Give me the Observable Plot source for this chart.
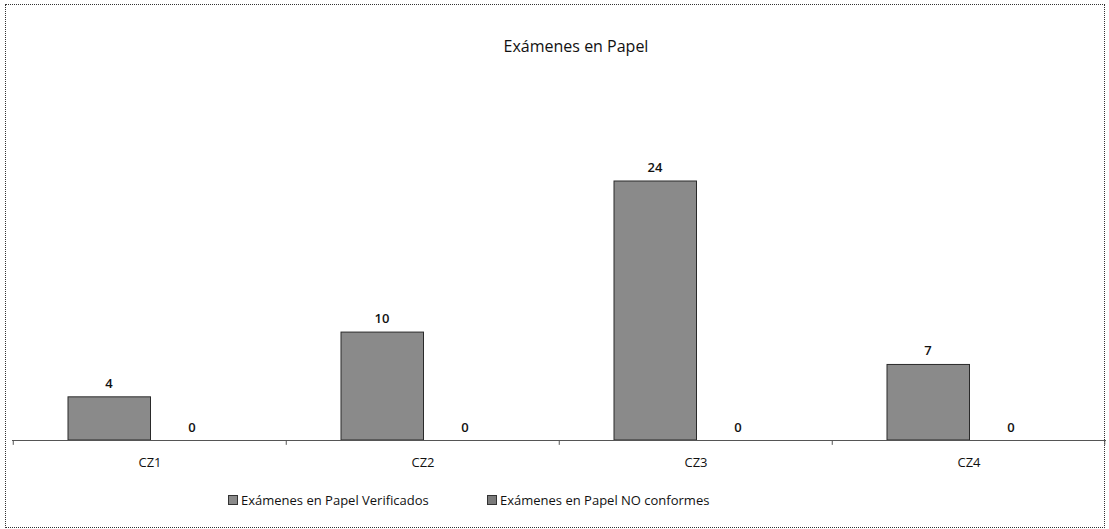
<!DOCTYPE html>
<html>
<head>
<meta charset="utf-8">
<script src="https://cdn.jsdelivr.net/npm/d3@7"></script>
<script src="https://cdn.jsdelivr.net/npm/@observablehq/plot@0.6"></script>
<style>
  html, body { margin: 0; padding: 0; background: #fff; }
  body { width: 1109px; height: 529px; position: relative; overflow: hidden; font-family: "Open Sans", sans-serif; color: #111; }
  #frame { position: absolute; left: 5px; top: 4px; width: 1100px; height: 524px; border: 1px dotted #333; box-sizing: border-box; }
  #title { position: absolute; left: 0; top: 35px; width: 1152px; text-align: center; font-size: 16px; }
  #chart { position: absolute; left: 0; top: 0; }
  .leg { position: absolute; top: 491px; font-size: 13px; white-space: nowrap; display: flex; align-items: center; }
  .sw { width: 8px; height: 8px; background: #8a8a8a; border: 1px solid #333; margin-right: 3px; display: inline-block; }
</style>
</head>
<body>
<div id="frame"></div>
<div id="title">Exámenes en Papel</div>
<div id="chart"></div>
<div class="leg" id="leg1" style="left:228px"><span class="sw"></span><span class="lt"></span></div>
<div class="leg" id="leg2" style="left:487px"><span class="sw" style="background:#7a7a7a"></span><span class="lt"></span></div>
<script>
const categories = ["CZ1", "CZ2", "CZ3", "CZ4"];
const seriesNames = ["Exámenes en Papel Verificados", "Exámenes en Papel NO conformes"];
const verificados = [4, 10, 24, 7];
const noConformes = [0, 0, 0, 0];

const rows = categories.map((c, i) => ({cat: c, ver: verificados[i], noc: noConformes[i]}));
const step = (1106 - 12) / categories.length;

document.querySelector("#leg1 .lt").textContent = seriesNames[0];
document.querySelector("#leg2 .lt").textContent = seriesNames[1];

const plot = Plot.plot({
  width: 1109,
  height: 480,
  marginTop: 181,
  marginBottom: 40,
  marginLeft: 12,
  marginRight: 3,
  style: {fontFamily: "Open Sans, sans-serif", fontSize: "13px", color: "#111", background: "transparent"},
  x: {type: "band", domain: categories, padding: 0, label: null, tickSize: 0, tickPadding: 17},
  y: {domain: [0, 24], axis: null},
  marks: [
    Plot.barY(rows, {x: "cat", y: "ver", fill: "#8a8a8a", stroke: "#2a2a2a", strokeWidth: 1, insetLeft: 55, insetRight: step - 55 - 83}),
    Plot.barY(rows, {x: "cat", y: "noc", fill: "#7a7a7a", stroke: "#2a2a2a", strokeWidth: 1, insetLeft: 55 + 83, insetRight: step - 55 - 166}),
    Plot.ruleY([0], {stroke: "#555", strokeWidth: 1.2}),
    Plot.ruleX(rows, {x: "cat", dx: -step / 2, y1: 0, y2: -0.45, stroke: "#555"}),
    Plot.ruleX(rows.slice(-1), {x: "cat", dx: step / 2 - 1, y1: 0, y2: -0.45, stroke: "#555"}),
    Plot.text(rows, {x: "cat", y: "ver", text: d => String(d.ver), dx: -41, dy: -14, fontWeight: 600, fontSize: 13, fill: "#111"}),
    Plot.text(rows, {x: "cat", y: "noc", text: d => String(d.noc), dx: 42, dy: -13, fontWeight: 600, fontSize: 13, fill: "#111"})
  ]
});
document.getElementById("chart").appendChild(plot);
</script>
</body>
</html>
